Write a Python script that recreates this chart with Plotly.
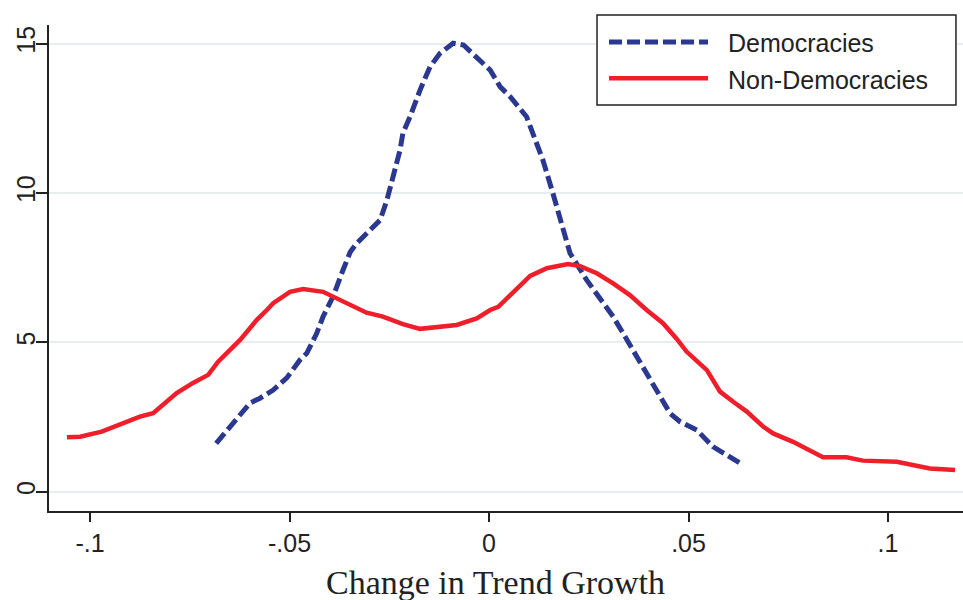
import plotly.graph_objects as go

series_names = ["Democracies", "Non-Democracies"]

dem_x = [-0.0684, -0.0649, -0.0617, -0.0599, -0.0574, -0.0541, -0.0507, -0.0474, -0.0457,
         -0.0432, -0.0416, -0.0391, -0.0366, -0.0348, -0.0332, -0.0273, -0.0256, -0.0223,
         -0.0216, -0.0198, -0.0173, -0.0148, -0.0123, -0.0090, -0.0064, -0.0031, 0.0003,
         0.0028, 0.0053, 0.0094, 0.0110, 0.0135, 0.0160, 0.0178, 0.0203, 0.0245, 0.0270,
         0.0311, 0.0336, 0.0370, 0.0395, 0.0429, 0.0454, 0.0479, 0.0521, 0.0561, 0.0604, 0.0637]
dem_y = [1.62, 2.18, 2.73, 2.97, 3.13, 3.40, 3.81, 4.41, 4.63,
         5.30, 5.86, 6.53, 7.42, 8.02, 8.31, 9.09, 9.76, 11.44,
         12.00, 12.55, 13.44, 14.22, 14.67, 15.01, 14.95, 14.56, 14.11,
         13.55, 13.22, 12.55, 11.99, 11.10, 9.99, 9.09, 7.98, 7.08, 6.64,
         5.86, 5.30, 4.52, 3.96, 3.18, 2.62, 2.34, 2.06, 1.51, 1.17, 0.89]

non_x = [-0.1058, -0.1025, -0.0971, -0.0912, -0.0875, -0.0842, -0.0783, -0.0742, -0.0704,
         -0.0679, -0.0642, -0.0624, -0.0599, -0.0582, -0.0557, -0.0541, -0.0499, -0.0466,
         -0.0416, -0.0391, -0.0348, -0.0307, -0.0266, -0.0216, -0.0173, -0.0140, -0.0081,
         -0.0031, 0.0003, 0.0023, 0.0060, 0.0078, 0.0103, 0.0145, 0.0198, 0.0228, 0.0270,
         0.0311, 0.0353, 0.0395, 0.0436, 0.0470, 0.0495, 0.0546, 0.0579, 0.0612,
         0.0646, 0.0687, 0.0712, 0.0762, 0.0812, 0.0837, 0.0896, 0.0937, 0.1022, 0.1063,
         0.1105, 0.1168]
non_y = [1.82, 1.84, 2.01, 2.30, 2.51, 2.63, 3.30, 3.64, 3.91,
         4.35, 4.85, 5.08, 5.48, 5.75, 6.08, 6.31, 6.69, 6.78,
         6.69, 6.53, 6.25, 5.99, 5.86, 5.61, 5.45, 5.49, 5.58,
         5.80, 6.08, 6.19, 6.65, 6.92, 7.22, 7.48, 7.62, 7.55, 7.31,
         6.97, 6.58, 6.08, 5.64, 5.12, 4.69, 4.07, 3.35, 3.01,
         2.68, 2.18, 1.95, 1.67, 1.34, 1.15, 1.15, 1.04, 1.00, 0.89,
         0.78, 0.73]

x_tickvals = [-0.1, -0.05, 0, 0.05, 0.1]
x_ticktext = ["-.1", "-.05", "0", ".05", ".1"]
y_tickvals = [0, 5, 10, 15]
y_ticktext = ["0", "5", "10", "15"]
x_title = "Change in Trend Growth"

BLUE = "#2b3890"
RED = "#ee1f2b"
DARK = "#222222"
SANS = "Liberation Sans, Arial, sans-serif"

fig = go.Figure()
fig.add_trace(go.Scatter(x=dem_x, y=dem_y, mode="lines", name=series_names[0],
                         line=dict(color=BLUE, width=5, dash="13px,5px"),
                         showlegend=False))
fig.add_trace(go.Scatter(x=non_x, y=non_y, mode="lines", name=series_names[1],
                         line=dict(color=RED, width=4.5),
                         showlegend=False))

fig.update_layout(
    width=963, height=600,
    margin=dict(l=49, r=0, t=25, b=89),
    plot_bgcolor="white", paper_bgcolor="white",
    font=dict(family=SANS, size=25, color=DARK),
)
fig.update_xaxes(range=[-0.1103, 0.1188], tickvals=x_tickvals, ticktext=x_ticktext,
                 automargin=False,
                 showgrid=False, zeroline=False, showline=True, linecolor=DARK, linewidth=2,
                 ticks="outside", ticklen=9, tickwidth=2, tickcolor=DARK,
                 tickfont=dict(family=SANS, size=25, color=DARK))
fig.update_yaxes(range=[-0.646, 15.62], tickvals=y_tickvals, ticktext=y_ticktext,
                 automargin=False, ticklabelstandoff=-9,
                 showgrid=True, gridcolor="#e8edf0", gridwidth=2, zeroline=False,
                 showline=True, linecolor=DARK, linewidth=2,
                 ticks="outside", ticklen=11, tickwidth=2, tickcolor=DARK, tickangle=-90,
                 tickfont=dict(family=SANS, size=25, color=DARK))

# x-axis title
fig.add_annotation(x=0.489, y=-0.148, xref="paper", yref="paper", text=x_title,
                   showarrow=False, xanchor="center", yanchor="middle",
                   font=dict(family="Liberation Serif, Times New Roman, serif", size=34, color=DARK))

# legend box drawn manually
fig.add_shape(type="rect", xref="paper", yref="paper", x0=0.5996, x1=0.9923, y0=0.8354, y1=1.0206,
              line=dict(color=DARK, width=1.5), fillcolor="white", layer="above")
fig.add_shape(type="line", xref="paper", yref="paper", x0=0.6127, x1=0.7210, y0=0.9648, y1=0.9648,
              line=dict(color=BLUE, width=5, dash="13px,5px"), layer="above")
fig.add_shape(type="line", xref="paper", yref="paper", x0=0.6127, x1=0.7210, y0=0.8903, y1=0.8903,
              line=dict(color=RED, width=4.5), layer="above")
fig.add_annotation(x=0.7404, y=0.9625, xref="paper", yref="paper", text=series_names[0],
                   showarrow=False, xanchor="left", yanchor="middle",
                   font=dict(family=SANS, size=25, color=DARK))
fig.add_annotation(x=0.7404, y=0.8868, xref="paper", yref="paper", text=series_names[1],
                   showarrow=False, xanchor="left", yanchor="middle",
                   font=dict(family=SANS, size=25, color=DARK))

fig.write_html("out.html", config={"displayModeBar": False},
               post_script="document.body.style.margin='0';document.body.style.overflow='hidden';")
